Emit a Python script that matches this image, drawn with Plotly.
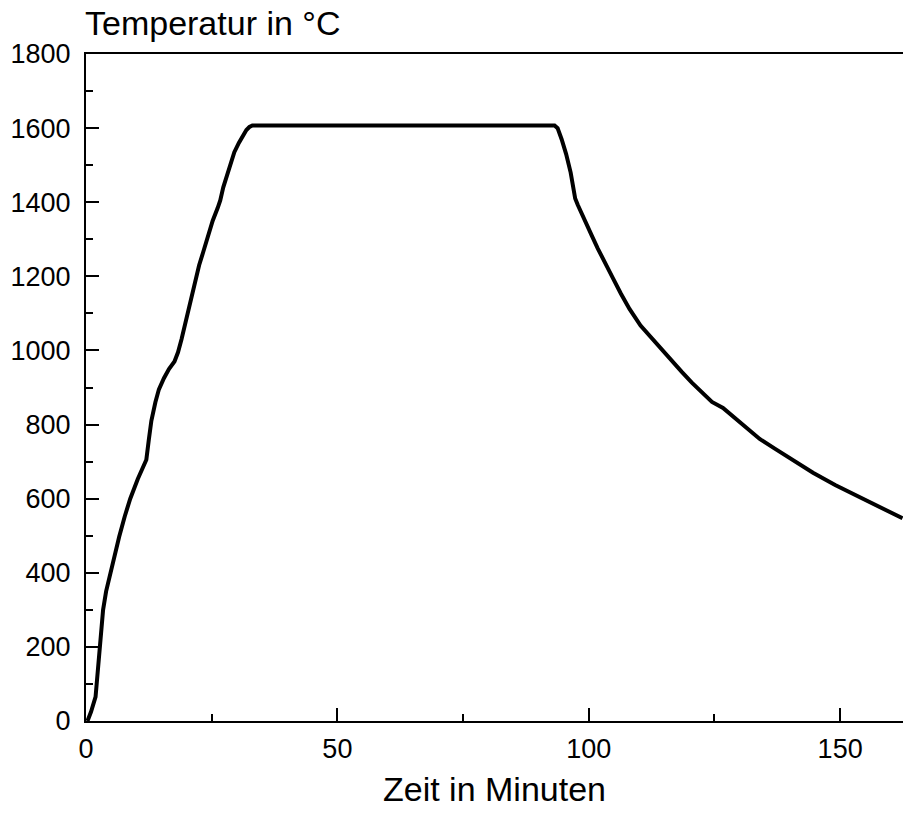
import plotly.graph_objects as go

# Data
zeit = [0.3, 1.0, 1.9, 2.4, 2.9, 3.4, 4.0, 4.9, 5.8, 6.6, 7.7, 8.8, 10.3, 12.0, 12.5, 13.0,
        13.8, 14.5, 15.5, 16.5, 17.6, 18.3, 19.0, 19.8, 20.6, 21.5, 22.5, 23.3, 24.3,
        25.2, 26.2, 26.7, 27.3, 27.8, 28.6, 29.5, 30.4, 31.2, 31.9, 32.5, 33.1,
        93.2, 93.8, 94.6, 95.5, 96.4, 96.9, 97.3, 97.8, 98.6, 99.5, 100.6, 101.8, 103.2,
        104.8, 106.4, 108.1, 110.3, 112.7, 114.5, 116.1, 118.5, 120.5, 122.7, 124.5,
        126.7, 129.0, 131.5, 134.0, 137.0, 140.5, 144.6, 149.0, 153.9, 158.0, 162.4]
temperatur = [0, 25, 65, 140, 220, 300, 350, 405, 455, 497, 552, 600, 653, 705, 760, 810,
              860, 895, 925, 950, 970, 995, 1030, 1075, 1130, 1180, 1230, 1265, 1310,
              1350, 1385, 1405, 1440, 1462, 1500, 1535, 1560, 1580, 1595, 1603, 1607,
              1607, 1600, 1570, 1530, 1480, 1440, 1410, 1393, 1368, 1344, 1310, 1275, 1235,
              1195, 1153, 1112, 1067, 1030, 1002, 976, 942, 913, 883, 861,
              845, 818, 789, 761, 735, 705, 670, 637, 604, 576, 547]

x_ticks = [0, 50, 100, 150]
y_ticks = [0, 200, 400, 600, 800, 1000, 1200, 1400, 1600, 1800]

FONT = "Arial, Liberation Sans, sans-serif"

fig = go.Figure()
fig.add_trace(go.Scatter(
    x=zeit, y=temperatur, mode="lines",
    line=dict(color="black", width=4, shape="linear"),
    showlegend=False, hoverinfo="skip",
))

fig.update_layout(
    width=903, height=814,
    margin=dict(l=86, r=0, t=54, b=93),
    paper_bgcolor="white", plot_bgcolor="white",
    font=dict(family=FONT, color="black", size=27),
    xaxis=dict(
        range=[0, 162.5], tickvals=x_ticks, ticks="inside", ticklen=13, tickwidth=2,
        tickcolor="black", showline=True, linecolor="black", linewidth=2, mirror=True,
        showgrid=False, zeroline=False, tickfont=dict(size=27, family=FONT),
        ticklabelstandoff=3,
        minor=dict(dtick=25, tick0=0, ticks="inside", ticklen=7, tickwidth=2, tickcolor="black", showgrid=False),
        title=dict(text="Zeit in Minuten", font=dict(size=34, family=FONT), standoff=14),
    ),
    yaxis=dict(
        range=[0, 1800], tickvals=y_ticks, ticks="inside", ticklen=13, tickwidth=2,
        tickcolor="black", showline=True, linecolor="black", linewidth=2, mirror=False,
        showgrid=False, zeroline=False, tickfont=dict(size=27, family=FONT),
        ticklabelstandoff=8,
        minor=dict(dtick=100, tick0=0, ticks="inside", ticklen=7, tickwidth=2, tickcolor="black", showgrid=False),
    ),
    annotations=[dict(
        text="Temperatur in °C", xref="paper", yref="paper", x=0, y=1,
        xanchor="left", yanchor="bottom", yshift=10, xshift=-3, showarrow=False,
        font=dict(size=34, family=FONT, color="black"),
    )],
)

fig.write_html("out.html")
